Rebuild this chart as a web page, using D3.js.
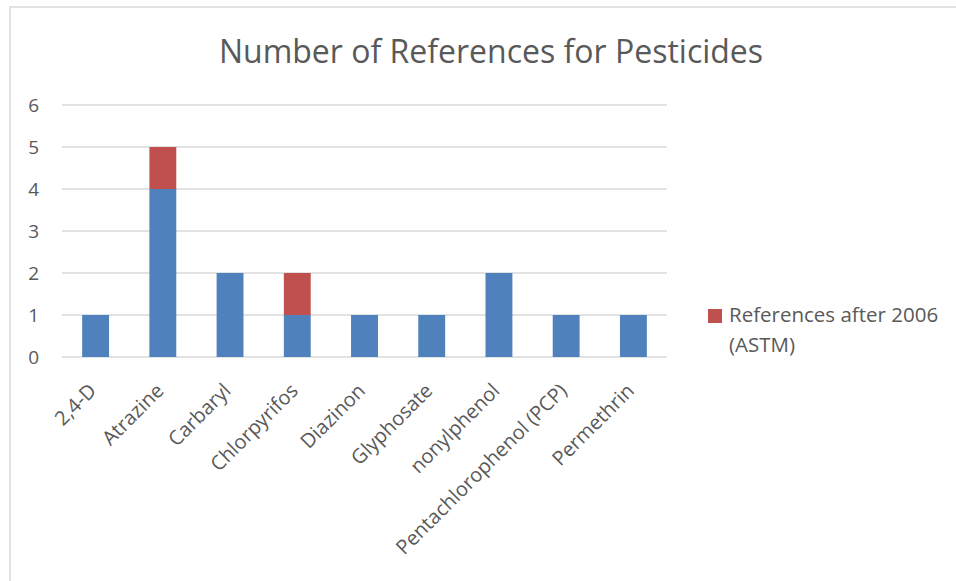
<!DOCTYPE html>
<meta charset="utf-8">
<style>
  body { margin: 0; background: #fff; }
  text { font-family: "Open Sans", "Noto Sans", sans-serif; fill: #595959; }
</style>
<body>
<div id="chart"></div>
<script src="https://cdn.jsdelivr.net/npm/d3@7"></script>
<script>

var categories = ['2,4-D', 'Atrazine', 'Carbaryl', 'Chlorpyrifos', 'Diazinon',
                  'Glyphosate', 'nonylphenol', 'Pentachlorophenol (PCP)', 'Permethrin'];
var before2006 = [1, 4, 2, 1, 1, 1, 2, 1, 1];
var after2006 = [0, 1, 0, 1, 0, 0, 0, 0, 0];
var yTicks = [0, 1, 2, 3, 4, 5, 6];
var legendLines = ['References after 2006', '(ASTM)'];

var width = 956,
    height = 581,
    plotLeft = 62, plotRight = 667,
    plotTop = 105, plotBottom = 357;

var blue = '#4f81bd',
    red = '#c0504d',
    grid_color = '#d9d9d9',
    text_color = '#595959';

var svg = d3.select('#chart').append('svg')
    .attr('width', width)
    .attr('height', height);

// outer chart border (chart is cropped on the right and bottom)
svg.append('rect')
    .attr('x', 10).attr('y', 7)
    .attr('width', width).attr('height', height)
    .style('fill', 'none')
    .style('stroke', grid_color)
    .style('stroke-width', 1.5);

var x = d3.scaleBand()
    .domain(categories)
    .range([plotLeft, plotRight])
    .paddingInner(0.6)
    .paddingOuter(0.3);

var y = d3.scaleLinear()
    .domain([0, 6])
    .range([plotBottom, plotTop]);

// gridlines
svg.append('g')
  .selectAll('line')
  .data(yTicks)
  .enter().append('line')
    .attr('x1', plotLeft).attr('x2', plotRight)
    .attr('y1', function(d) { return y(d); })
    .attr('y2', function(d) { return y(d); })
    .style('stroke', grid_color)
    .style('stroke-width', 1.5);

// y axis labels
var yAxis = d3.axisLeft(y)
    .tickValues(yTicks)
    .tickFormat(d3.format('d'))
    .tickSize(0)
    .tickPadding(23);
var gy = svg.append('g')
    .attr('transform', 'translate(' + plotLeft + ',0)')
    .call(yAxis);
gy.select('.domain').remove();
gy.selectAll('text')
    .style('font-family', '"Open Sans", sans-serif')
    .style('font-size', '19px')
    .style('fill', text_color);

// stacked bars
var rows = categories.map(function(c, i) {
    return { cat: c, before: before2006[i], after: after2006[i] };
});
var stack = d3.stack().keys(['before', 'after'])(rows);
var colors = [blue, red];

svg.append('g')
  .selectAll('g')
  .data(stack)
  .enter().append('g')
    .style('fill', function(d, i) { return colors[i]; })
  .selectAll('rect')
  .data(function(d) { return d.filter(function(v) { return v[1] > v[0]; }); })
  .enter().append('rect')
    .attr('x', function(d) { return x(d.data.cat); })
    .attr('width', x.bandwidth())
    .attr('y', function(d) { return y(d[1]); })
    .attr('height', function(d) { return y(d[0]) - y(d[1]); });

// x axis labels, rotated
var xAxis = d3.axisBottom(x).tickSize(0).tickPadding(0);
var gx = svg.append('g')
    .attr('transform', 'translate(0,' + plotBottom + ')')
    .call(xAxis);
gx.select('.domain').remove();
gx.selectAll('text')
    .style('font-family', '"Open Sans", sans-serif')
    .style('font-size', '20px')
    .style('fill', text_color)
    .style('text-anchor', 'end')
    .attr('dy', null)
    .attr('y', 0)
    .attr('transform', 'translate(2,35) rotate(-45)');

// title
svg.append('text')
    .attr('x', 491)
    .attr('y', 63)
    .attr('text-anchor', 'middle')
    .style('font-size', '32px')
    .text('Number of References for Pesticides');

// legend (only the second series is shown)
var legend = svg.append('g').attr('transform', 'translate(708,309)');
legend.append('rect')
    .attr('width', 14).attr('height', 14)
    .style('fill', red);
legend.selectAll('text')
  .data(legendLines)
  .enter().append('text')
    .attr('x', 21)
    .attr('y', function(d, i) { return 13 + i * 30; })
    .style('font-size', '20.5px')
    .text(function(d) { return d; });

</script>
</body>
